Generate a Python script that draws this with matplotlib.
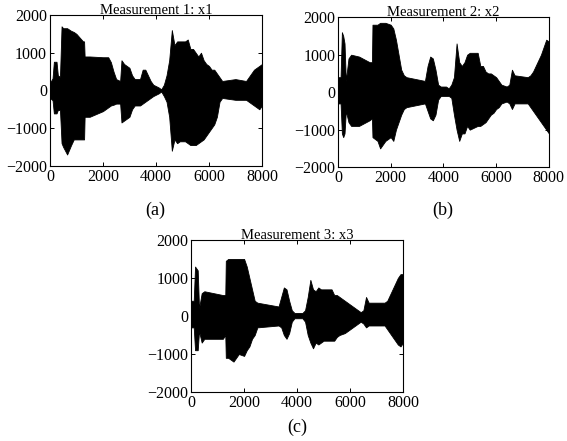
import numpy as np
import matplotlib
matplotlib.use("Agg")
import matplotlib.pyplot as plt

plt.rcParams['font.family'] = ['Liberation Serif', 'DejaVu Serif']

# Enveloppes (échantillon, haut, bas)
t1 = [0, 100, 150, 250, 300, 380, 440, 500, 650, 800, 900, 1000, 1250, 1290, 1310, 1500, 2000, 2200,
      2300, 2400, 2500, 2650, 2700, 2800, 3000, 3100, 3200, 3400, 3500, 3600, 3700, 3800, 3900,
      4100, 4200, 4300, 4400, 4500, 4600, 4700, 4800, 4900, 5100, 5200, 5300, 5400, 5500, 5600,
      5700, 5800, 5900, 6000, 6100, 6200, 6300, 6400, 6500, 7000, 7400, 7500, 7600, 7700, 7800,
      7900, 8000]
up1 = [200, 320, 760, 760, 400, 360, 1700, 1650, 1650, 1580, 1550, 1500, 1300, 1300, 900, 900, 880,
       880, 750, 500, 300, 250, 800, 700, 600, 400, 300, 300, 550, 550, 400, 250, 150, 80, 30, 150,
       400, 800, 1600, 1200, 1300, 1300, 1300, 1350, 1100, 1100, 1000, 900, 1000, 800, 700, 650,
       550, 550, 450, 350, 250, 300, 250, 350, 450, 550, 600, 650, 700]
lo1 = [-200, -260, -610, -610, -520, -520, -1400, -1500, -1700, -1450, -1300, -1300, -1300, -1300, -700,
       -700, -550, -450, -400, -380, -350, -350, -850, -800, -700, -500, -400, -400, -350, -300,
       -250, -200, -150, -80, -30, -150, -300, -700, -1600, -1300, -1400, -1350, -1350, -1400, -1450,
       -1450, -1450, -1400, -1350, -1300, -1200, -1100, -1000, -900, -700, -300, -200, -250, -250,
       -300, -350, -400, -450, -500, -400]

t2 = [0, 100, 150, 200, 250, 300, 400, 500, 800, 1200, 1290, 1310, 1500, 1600, 1800, 2000, 2100,
      2200, 2300, 2400, 2500, 2600, 3300, 3400, 3500, 3600, 3700, 3800, 3900, 4100, 4200, 4300,
      4400, 4500, 4600, 4700, 4800, 4900, 5000, 5300, 5400, 5500, 5600, 5700, 5800, 5900, 6000,
      6100, 6200, 6400, 6500, 6600, 6700, 7200, 7300, 7400, 7500, 7600, 7700, 7800, 7900, 8000]
up2 = [400, 400, 1600, 1500, 1300, 300, 900, 1000, 950, 800, 800, 1800, 1800, 1850, 1850, 1800, 1700,
       1400, 1000, 600, 450, 400, 300, 700, 950, 900, 600, 200, 150, 150, 100, 200, 400, 1300, 800,
       700, 800, 1000, 1050, 1050, 700, 700, 550, 500, 500, 450, 400, 300, 200, 150, 200, 600, 450,
       400, 450, 550, 700, 850, 1000, 1200, 1400, 1350]
lo2 = [-300, -300, -1100, -1200, -1100, -500, -800, -900, -900, -750, -700, -1200, -1300, -1500, -1300,
       -1200, -1300, -1000, -800, -600, -450, -400, -300, -500, -700, -750, -600, -200, -100, -100,
       -100, -150, -600, -1000, -1300, -1100, -1100, -900, -1000, -900, -900, -850, -800, -700,
       -600, -550, -450, -400, -300, -250, -300, -450, -300, -300, -400, -500, -600, -700, -800,
       -900, -1000, -1100]

t3 = [0, 100, 150, 250, 300, 400, 500, 1200, 1290, 1310, 1400, 1600, 1800, 2000, 2100, 2200, 2300,
      2400, 2500, 3300, 3400, 3500, 3600, 3700, 3800, 3900, 4200, 4300, 4400, 4500, 4600, 4700,
      4800, 4900, 5000, 5300, 5400, 5500, 5600, 5800, 6000, 6200, 6400, 6500, 6600, 6700, 7300,
      7400, 7500, 7600, 7700, 7800, 7900, 8000]
up3 = [400, 400, 1300, 1200, 200, 600, 650, 550, 550, 1450, 1500, 1500, 1500, 1500, 1300, 1000, 700,
       400, 350, 250, 500, 750, 700, 400, 150, 80, 80, 150, 500, 950, 700, 650, 750, 700, 700, 700,
       550, 550, 500, 400, 300, 200, 100, 150, 500, 350, 350, 400, 550, 700, 850, 1000, 1100, 1100]
lo3 = [-300, -300, -900, -900, -400, -700, -600, -600, -500, -1100, -1100, -1200, -1000, -1050, -900,
       -800, -600, -500, -300, -250, -300, -500, -600, -450, -150, -60, -60, -150, -500, -700, -850,
       -700, -750, -700, -650, -650, -650, -550, -500, -450, -350, -250, -150, -200, -300, -250,
       -250, -350, -450, -550, -650, -750, -800, -700]

titles = ["Measurement 1: x1", "Measurement 2: x2", "Measurement 3: x3"]
letters = ["(a)", "(b)", "(c)"]

fig = plt.figure(figsize=(5.67, 4.41), dpi=100)
boxes = [[0.088, 0.624, 0.374, 0.342],
         [0.596, 0.621, 0.372, 0.340],
         [0.337, 0.111, 0.374, 0.345]]
series = [(t1, up1, lo1), (t2, up2, lo2), (t3, up3, lo3)]
label_pos = [(0.274, 0.524), (0.78, 0.524), (0.524, 0.032)]

for box, (t, up, lo), title, letter, lp in zip(boxes, series, titles, letters, label_pos):
    ax = fig.add_axes(box)
    ax.fill_between(t, lo, up, color='black', linewidth=0.6, edgecolor='black')
    ax.set_xlim(0, 8000)
    ax.set_ylim(-2000, 2000)
    ax.set_xticks([0, 2000, 4000, 6000, 8000])
    ax.set_yticks([-2000, -1000, 0, 1000, 2000])
    ax.tick_params(direction='in', top=True, right=True, length=3, width=0.7,
                   labelsize=11.5, pad=2)
    for s in ax.spines.values():
        s.set_linewidth(0.8)
    ax.set_title(title, fontsize=10.5, pad=1)
    fig.text(lp[0], lp[1], letter, ha='center', va='center', fontsize=13)

fig.savefig("out.png", dpi=100)
